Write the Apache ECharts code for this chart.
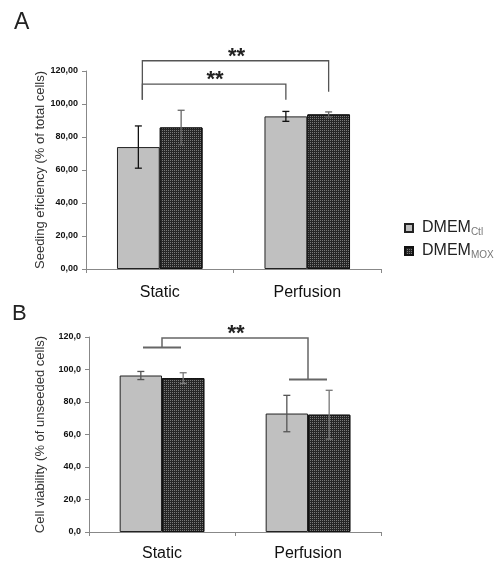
<!DOCTYPE html>
<html>
<head>
<meta charset="utf-8">
<script src="https://cdn.jsdelivr.net/npm/echarts@6/dist/echarts.min.js"></script>
<style>html,body{margin:0;padding:0;background:#fff}#c{width:498px;height:562px}</style>
</head>
<body>
<div id="c"></div>
<script>
// ---- data ----
const categories = ['Static', 'Perfusion'];
const seriesNames = ['Ctl', 'MOX'];
// Panel A: seeding efficiency (% of total cells)
const seedCtl = [73.9, 92.5];
const seedCtlErr = [12.8, 3.0];
const seedMox = [85.8, 93.7];
const seedMoxErr = [10.4, 1.5];
// Panel B: cell viability (% of unseeded cells)
const viabCtl = [96.3, 72.9];
const viabCtlErr = [2.5, 11.2];
const viabMox = [94.7, 72.2];
const viabMoxErr = [3.3, 15.0];
// significance brackets: [cat1, bar1(-1 ctl / 0 centre / 1 mox), cat2, bar2, top, end1, end2]
const sigA = [[0, -1, 1, -1, 112.1, 102.6, 102.6], [0, -1, 1, 1, 126.2, 102.6, 107.5]];
const sigB = [[0, 0, 1, 0, 119.4, 113.6, 93.9]];
const sigLabel = '**';

const FONT = '"Liberation Sans", Arial, sans-serif';
const GAP = 0.42;

const chart = echarts.init(document.getElementById('c'), null, {renderer: 'canvas'});

function errSeries(name, vals, errs, side, gi, color) {
  return {
    type: 'custom', name: name, xAxisIndex: gi, yAxisIndex: gi, z: 5, silent: true,
    data: vals.map((v, i) => [i, v, errs[i]]),
    renderItem: function (params, api) {
      const band = api.size([1, 0])[0];
      const bw = band * (1 - GAP) / 2;
      const x = api.coord([api.value(0), 0])[0] + side * bw / 2;
      const v = api.value(1), e = api.value(2);
      const yt = api.coord([0, v + e])[1], yb = api.coord([0, v - e])[1];
      const st = {stroke: color, lineWidth: 1.3};
      return {type: 'group', children: [
        {type: 'line', shape: {x1: x, y1: yt, x2: x, y2: yb}, style: st},
        {type: 'line', shape: {x1: x - 3.5, y1: yt, x2: x + 3.5, y2: yt}, style: st},
        {type: 'line', shape: {x1: x - 3.5, y1: yb, x2: x + 3.5, y2: yb}, style: st}
      ]};
    }
  };
}

function sigSeries(name, rows, gi, hbar, color, lw) {
  return {
    type: 'custom', name: name, xAxisIndex: gi, yAxisIndex: gi, z: 6, silent: true, clip: false,
    data: rows,
    renderItem: function (params, api) {
      const band = api.size([1, 0])[0];
      const bw = band * (1 - GAP) / 2;
      const x1 = api.coord([api.value(0), 0])[0] + api.value(1) * bw / 2 + (hbar ? 0 : 4);
      const x2 = api.coord([api.value(2), 0])[0] + api.value(3) * bw / 2;
      const yt = api.coord([0, api.value(4)])[1];
      const y1 = api.coord([0, api.value(5)])[1];
      const y2 = api.coord([0, api.value(6)])[1];
      const st = {stroke: color, lineWidth: lw, fill: null};
      const ch = [
        {type: 'polyline', shape: {points: [[x1, y1], [x1, yt], [x2, yt], [x2, y2]]}, style: st},
        {type: 'text', style: {text: sigLabel, x: (x1 + x2) / 2 + 1, y: yt - 15, align: 'center', verticalAlign: 'top',
          font: 'bold 22px ' + FONT, fill: '#222'}}
      ];
      if (hbar) {
        ch.push({type: 'line', shape: {x1: x1 - 19, y1: y1, x2: x1 + 19, y2: y1}, style: {stroke: color, lineWidth: 2}});
        ch.push({type: 'line', shape: {x1: x2 - 19, y1: y2, x2: x2 + 19, y2: y2}, style: {stroke: color, lineWidth: 2}});
      }
      return {type: 'group', children: ch};
    }
  };
}

const ctlStyle = {color: '#c0c0c0', borderColor: '#222', borderWidth: 1};
const moxStyle = {color: '#262626', borderColor: '#111', borderWidth: 1,
  decal: {symbol: 'rect', symbolSize: 1, dashArrayX: [1, 1], dashArrayY: [1, 1], color: '#7a7a7a'}};

function yAxis(gi, dec, name, nameGap) {
  return {
    gridIndex: gi, type: 'value', min: 0, max: 120, interval: 20,
    name: name, nameLocation: 'middle', nameGap: nameGap, nameRotate: 90, nameMoveOverlap: false,
    nameTextStyle: {fontSize: 13, color: '#333', fontFamily: FONT},
    axisLine: {show: true, lineStyle: {color: '#888', width: 1}},
    axisTick: {show: true, length: 4, lineStyle: {color: '#888'}},
    splitLine: {show: false},
    axisLabel: {margin: 8, fontSize: 9, fontWeight: 'bold', color: '#111', fontFamily: FONT,
      formatter: v => v.toFixed(dec).replace('.', ',')}
  };
}
function xAxis(gi, margin) {
  return {
    gridIndex: gi, type: 'category', data: categories,
    axisLine: {show: true, lineStyle: {color: '#888', width: 1}},
    axisTick: {show: true, length: 4, lineStyle: {color: '#888'}},
    axisLabel: {margin: margin, fontSize: 16, color: '#111', fontFamily: FONT}
  };
}

chart.setOption({
  animation: false,
  backgroundColor: '#fff',
  grid: [
    {left: 86, right: 117, top: 71, bottom: 293},
    {left: 89, right: 117, top: 337, bottom: 29}
  ],
  xAxis: [xAxis(0, 16), xAxis(1, 14)],
  yAxis: [yAxis(0, 2, 'Seeding eficiency (% of total cells)', 39), yAxis(1, 1, 'Cell viability (% of unseeded cells)', 42)],
  legend: {
    data: seriesNames, orient: 'vertical', left: 399, top: 215, itemGap: 6,
    icon: 'rect', itemWidth: 8, itemHeight: 8,
    formatter: n => '{m|DMEM}{s|' + n + '}',
    textStyle: {padding: [0, 0, 0, 4], rich: {
      m: {fontSize: 16, color: '#222', fontFamily: FONT, lineHeight: 18},
      s: {fontSize: 10, color: '#777', fontFamily: FONT, verticalAlign: 'bottom', lineHeight: 10}
    }}
  },
  graphic: [
    {type: 'text', left: 14, top: 11, style: {text: 'A', font: '23px ' + FONT, fill: '#222'}},
    {type: 'text', left: 12, top: 303, style: {text: 'B', font: '22px ' + FONT, fill: '#222'}}
  ],
  series: [
    {type: 'bar', name: 'Ctl', xAxisIndex: 0, yAxisIndex: 0, data: seedCtl, barGap: '0%', barCategoryGap: '42%', itemStyle: ctlStyle},
    {type: 'bar', name: 'MOX', xAxisIndex: 0, yAxisIndex: 0, data: seedMox, barGap: '0%', barCategoryGap: '42%', itemStyle: moxStyle},
    {type: 'bar', name: 'Ctl', xAxisIndex: 1, yAxisIndex: 1, data: viabCtl, barGap: '0%', barCategoryGap: '42%', itemStyle: ctlStyle},
    {type: 'bar', name: 'MOX', xAxisIndex: 1, yAxisIndex: 1, data: viabMox, barGap: '0%', barCategoryGap: '42%', itemStyle: moxStyle},
    errSeries('errA1', seedCtl, seedCtlErr, -1, 0, '#111'),
    errSeries('errA2', seedMox, seedMoxErr, 1, 0, '#666'),
    errSeries('errB1', viabCtl, viabCtlErr, -1, 1, '#555'),
    errSeries('errB2', viabMox, viabMoxErr, 1, 1, '#777'),
    sigSeries('sigA', sigA, 0, false, '#555', 1.3),
    sigSeries('sigB', sigB, 1, true, '#666', 1.5)
  ]
});
</script>
</body>
</html>
